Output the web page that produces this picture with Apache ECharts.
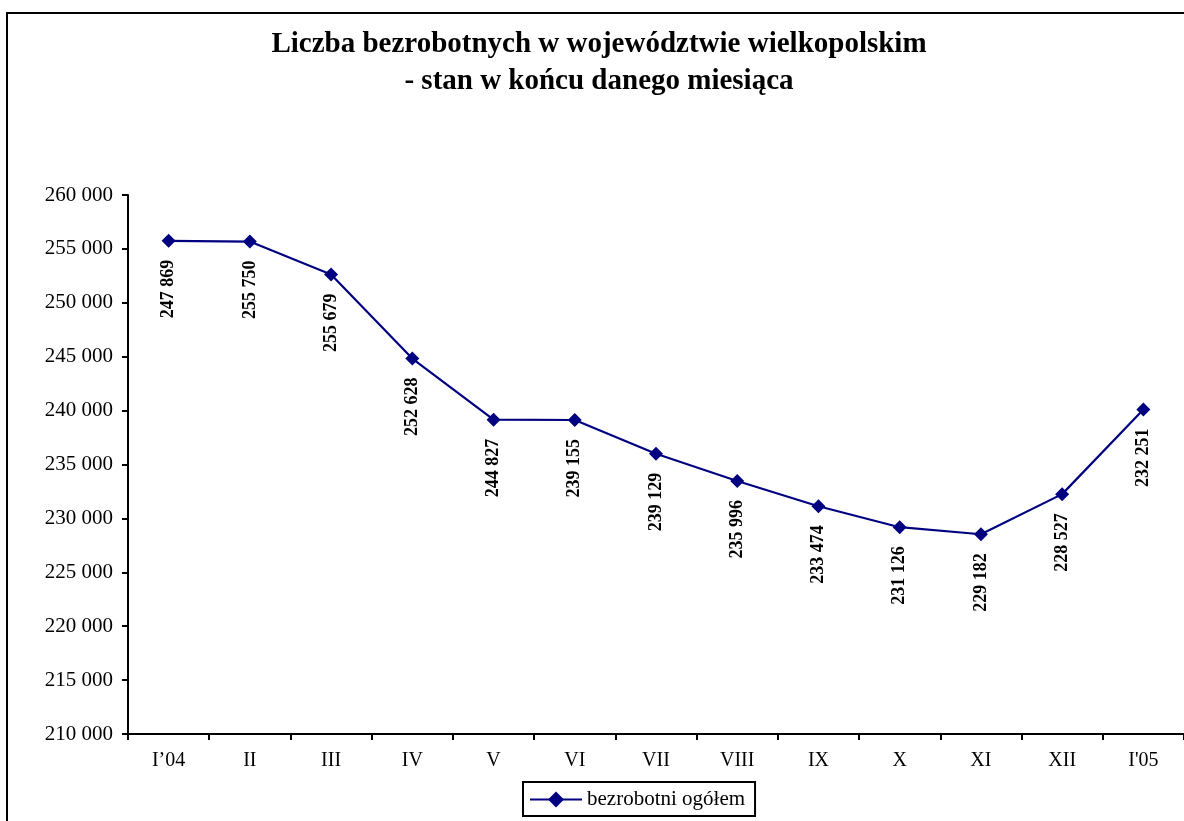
<!DOCTYPE html>
<html>
<head>
<meta charset="utf-8">
<script src="https://cdn.jsdelivr.net/npm/echarts@6/dist/echarts.min.js"></script>
<style>
  html, body { margin: 0; padding: 0; background: #fff; }
  #chart { width: 1184px; height: 821px; }
</style>
</head>
<body>
<div id="chart"></div>
<script>
var months = ['I\u201904', 'II', 'III', 'IV', 'V', 'VI', 'VII', 'VIII', 'IX', 'X', 'XI', 'XII', "I'05"];
var unemployed = [255750, 255679, 252628, 244827, 239155, 239129, 235996, 233474, 231126, 229182, 228527, 232251, 240100];
// etykiety pod punktami (tak jak na oryginale)
var pointLabels = ['247 869', '255 750', '255 679', '252 628', '244 827', '239 155', '239 129',
                   '235 996', '233 474', '231 126', '229 182', '228 527', '232 251'];
var yMin = 210000, yMax = 260000, yStep = 5000;

var serif = '"Liberation Serif", "Times New Roman", serif';

function fmt(v) {
  return String(v).replace(/\B(?=(\d{3})+(?!\d))/g, ' ');
}

var myChart = echarts.init(document.getElementById('chart'));
myChart.setOption({
  animation: false,
  color: ['#000080'],
  graphic: [{
    type: 'rect',
    shape: { x: 7, y: 13, width: 1190, height: 820 },
    style: { fill: 'none', stroke: '#000', lineWidth: 2 },
    silent: true
  }, {
    type: 'text',
    x: 599,
    y: 26,
    style: {
      text: 'Liczba bezrobotnych w województwie wielkopolskim\n- stan w końcu danego miesiąca',
      align: 'center',
      verticalAlign: 'top',
      fontFamily: serif,
      fontWeight: 'bold',
      fontSize: 29,
      lineHeight: 37,
      fill: '#000'
    },
    silent: true
  }],
  legend: {
    bottom: 5,
    left: 523,
    padding: [7, 10, 6, 6],
    borderColor: '#000',
    borderWidth: 2,
    itemWidth: 52,
    itemHeight: 20,
    itemGap: 4,
    textStyle: { fontFamily: serif, fontSize: 21, color: '#000' },
    data: ['bezrobotni ogółem']
  },
  grid: { left: 128, right: -1, top: 195, bottom: 87, containLabel: false },
  xAxis: {
    type: 'category',
    data: months,
    boundaryGap: true,
    axisLine: { lineStyle: { color: '#000', width: 2 } },
    axisTick: { show: true, length: 6, lineStyle: { color: '#000', width: 2 }, inside: false },
    axisLabel: { fontFamily: serif, fontSize: 20, color: '#000', margin: 17 }
  },
  yAxis: {
    type: 'value',
    min: yMin,
    max: yMax,
    interval: yStep,
    splitLine: { show: false },
    axisLine: { show: true, lineStyle: { color: '#000', width: 2 } },
    axisTick: { show: true, length: 6, lineStyle: { color: '#000', width: 2 } },
    axisLabel: { fontFamily: serif, fontSize: 21, color: '#000', margin: 15, formatter: fmt }
  },
  series: [{
    name: 'bezrobotni ogółem',
    type: 'line',
    data: unemployed,
    symbol: 'diamond',
    symbolSize: 14,
    lineStyle: { width: 2.2, color: '#000080' },
    itemStyle: { color: '#000080' },
    label: {
      show: true,
      position: 'bottom',
      distance: 12,
      rotate: 90,
      align: 'right',
      verticalAlign: 'middle',
      fontFamily: serif,
      fontWeight: 'bold',
      fontSize: 18,
      color: '#000',
      formatter: function (p) { return pointLabels[p.dataIndex]; }
    }
  }]
});
</script>
</body>
</html>
